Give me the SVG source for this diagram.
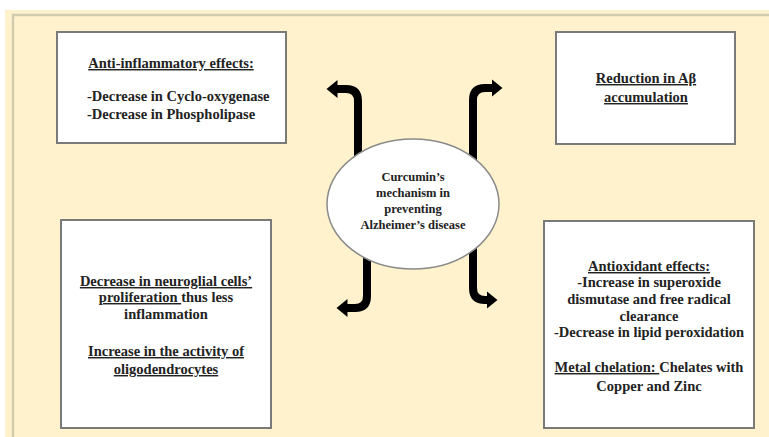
<svg xmlns="http://www.w3.org/2000/svg" width="769" height="437" viewBox="0 0 769 437">
  <defs>
    <style>
      .box { fill: #ffffff; stroke: #7a7a7a; stroke-width: 2; }
      .t { font-family: "Liberation Serif", "Times New Roman", serif; font-weight: bold; font-size: 14.5px; fill: #222; }
      .e { font-size: 12.5px; }
      .c { text-anchor: middle; }
      .u { text-decoration: underline; }
      .arrow { fill: none; stroke: #000; stroke-width: 8; }
    </style>
    <marker id="head" markerUnits="userSpaceOnUse" viewBox="0 -10 12 20" refX="0.5" refY="0" markerWidth="12" markerHeight="20" orient="auto">
      <path d="M0,-9 L11,0 L0,9 z" fill="#000"/>
    </marker>
  </defs>

  <rect x="0" y="0" width="769" height="437" fill="#ffffff"/>
  <rect x="5" y="10" width="764" height="427" fill="#fff2cc"/>
  <path d="M13,437 V15 H769" fill="none" stroke="#d3cbae" stroke-width="2.5"/>

  <g id="connectors">
    <path class="arrow" d="M358,160 V101 Q358,89 346,89 H337" marker-end="url(#head)"/>
    <path class="arrow" d="M473,160 V100 Q473,88 485,88 H492" marker-end="url(#head)"/>
    <path class="arrow" d="M367,245 V296 Q367,308 355,308 H347" marker-end="url(#head)"/>
    <path class="arrow" d="M473,245 V288 Q473,300 485,300 H487" marker-end="url(#head)"/>
  </g>

  <g id="center">
    <ellipse cx="413" cy="204" rx="86" ry="65" fill="#ffffff" stroke="#8a8a8a" stroke-width="1.5"/>
    <text class="t e c" x="413" y="181">Curcumin’s</text>
    <text class="t e c" x="413" y="197">mechanism in</text>
    <text class="t e c" x="413" y="213">preventing</text>
    <text class="t e c" x="413" y="229">Alzheimer’s disease</text>
  </g>

  <g id="anti-inflammatory">
    <rect class="box" x="57" y="32" width="229" height="111"/>
    <text class="t c u" x="171" y="68">Anti-inflammatory effects:</text>
    <text class="t" x="87" y="101">-Decrease in Cyclo-oxygenase</text>
    <text class="t" x="87" y="119">-Decrease in Phospholipase</text>
  </g>

  <g id="abeta">
    <rect class="box" x="556" y="32" width="179" height="112"/>
    <text class="t c u" x="646" y="83">Reduction in Aβ</text>
    <text class="t c u" x="646" y="102">accumulation</text>
  </g>

  <g id="neuroglial">
    <rect class="box" x="61" y="220" width="210" height="208"/>
    <text class="t c" x="166" y="286"><tspan class="u">Decrease in neuroglial cells’</tspan></text>
    <text class="t c" x="166" y="302"><tspan class="u">proliferation </tspan>thus less</text>
    <text class="t c" x="166" y="319">inflammation</text>
    <text class="t c" x="166" y="356"><tspan class="u">Increase in the activity of</tspan></text>
    <text class="t c" x="166" y="374"><tspan class="u">oligodendrocytes</tspan></text>
  </g>

  <g id="antioxidant">
    <rect class="box" x="544" y="221" width="210" height="207"/>
    <text class="t c" x="649" y="271"><tspan class="u">Antioxidant effects:</tspan></text>
    <text class="t c" x="649" y="287">-Increase in superoxide</text>
    <text class="t c" x="649" y="304">dismutase and free radical</text>
    <text class="t c" x="649" y="321">clearance</text>
    <text class="t c" x="649" y="337">-Decrease in lipid peroxidation</text>
    <text class="t c" x="649" y="372"><tspan class="u">Metal chelation: </tspan> Chelates with</text>
    <text class="t c" x="649" y="391">Copper and Zinc</text>
  </g>
</svg>
